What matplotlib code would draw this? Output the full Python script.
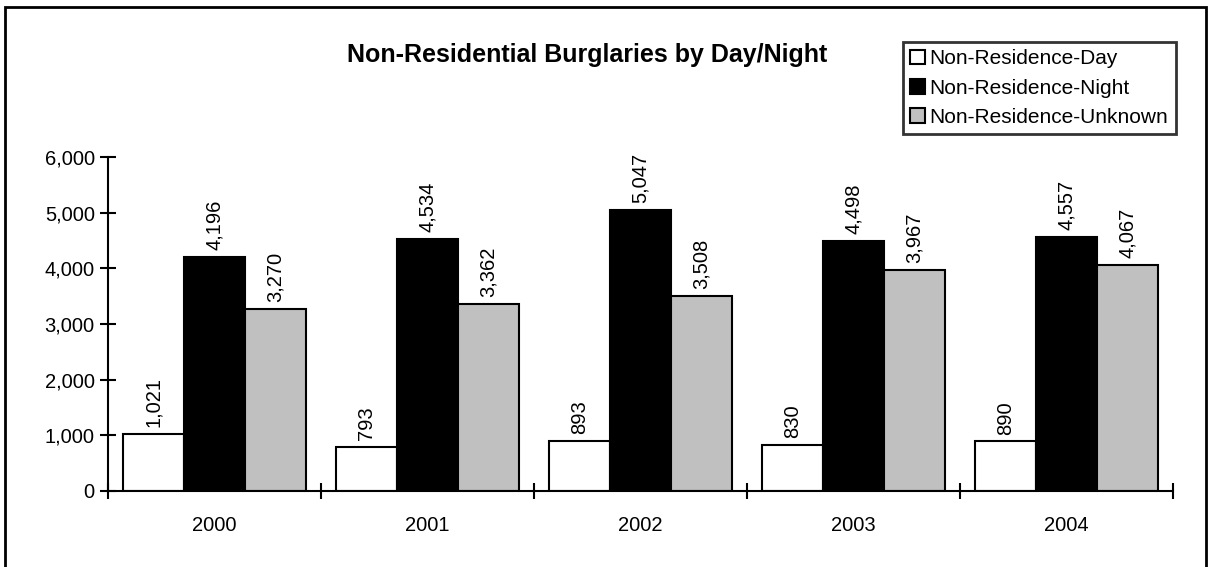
"""
Non-residential burglaries by day/night: grouped bar chart, Excel style.
"""
import numpy as np
import matplotlib
matplotlib.use("Agg")
import matplotlib.pyplot as plt
from matplotlib.patches import Rectangle
from matplotlib.ticker import FuncFormatter, FixedLocator

years = ["2000", "2001", "2002", "2003", "2004"]
day = [1021, 793, 893, 830, 890]
night = [4196, 4534, 5047, 4498, 4557]
unknown = [3270, 3362, 3508, 3967, 4067]
series_names = ["Non-Residence-Day", "Non-Residence-Night", "Non-Residence-Unknown"]
colors = ["white", "black", "#c0c0c0"]

plt.rcParams["font.family"] = ["Liberation Sans", "DejaVu Sans"]

fig = plt.figure(figsize=(12.09, 5.67), dpi=100)
ax = fig.add_axes([108 / 1209, 1 - 491 / 567, (1173 - 108) / 1209, (491 - 157) / 567])

x = np.arange(len(years))
width = 1 / 3.5
for i, (vals, name, col) in enumerate(zip([day, night, unknown], series_names, colors)):
    bars = ax.bar(x + (i - 1) * width, vals, width, color=col, edgecolor="black",
                  linewidth=1.5, label=name)
    ax.bar_label(bars, labels=[f"{v:,}" for v in vals], rotation=90, padding=5,
                 fontsize=14.5)

ax.set_xlim(-0.5, len(years) - 0.5)
ax.set_ylim(0, 6000)
ax.yaxis.set_major_locator(FixedLocator(np.arange(0, 6001, 1000)))
ax.yaxis.set_major_formatter(FuncFormatter(lambda v, p: f"{v:,.0f}"))
ax.tick_params(axis="y", direction="inout", length=11, width=1.5, labelsize=14.5, pad=4)

# category labels at centers, separator ticks at the boundaries
ax.set_xticks(x)
ax.set_xticklabels(years)
ax.set_xticks(np.arange(-0.5, len(years)), minor=True)
ax.tick_params(axis="x", which="major", length=0, labelsize=14.5, pad=18)
ax.tick_params(axis="x", which="minor", direction="inout", length=11, width=1.5)

for s in ["top", "right"]:
    ax.spines[s].set_visible(False)
for s in ["left", "bottom"]:
    ax.spines[s].set_linewidth(1.5)

fig.text(587 / 1209, 1 - 55 / 567, "Non-Residential Burglaries by Day/Night",
         ha="center", va="center", fontsize=18, fontweight="bold")

leg = fig.legend(loc="upper left", bbox_to_anchor=(903 / 1209, 1 - 42 / 567),
                 fontsize=15, frameon=True, fancybox=False, handlelength=0.72,
                 handleheight=0.72, handletextpad=0.2, labelspacing=0.5,
                 borderpad=0.35, borderaxespad=0)
leg.get_frame().set_edgecolor("black")
leg.get_frame().set_linewidth(2)

# outer chart frame
fig.patches.append(Rectangle((5 / 1209, -0.02), (1206 - 5) / 1209, 1.02 - 7 / 567,
                             transform=fig.transFigure, fill=False,
                             edgecolor="black", linewidth=2))

fig.savefig("out.png", dpi=100)
